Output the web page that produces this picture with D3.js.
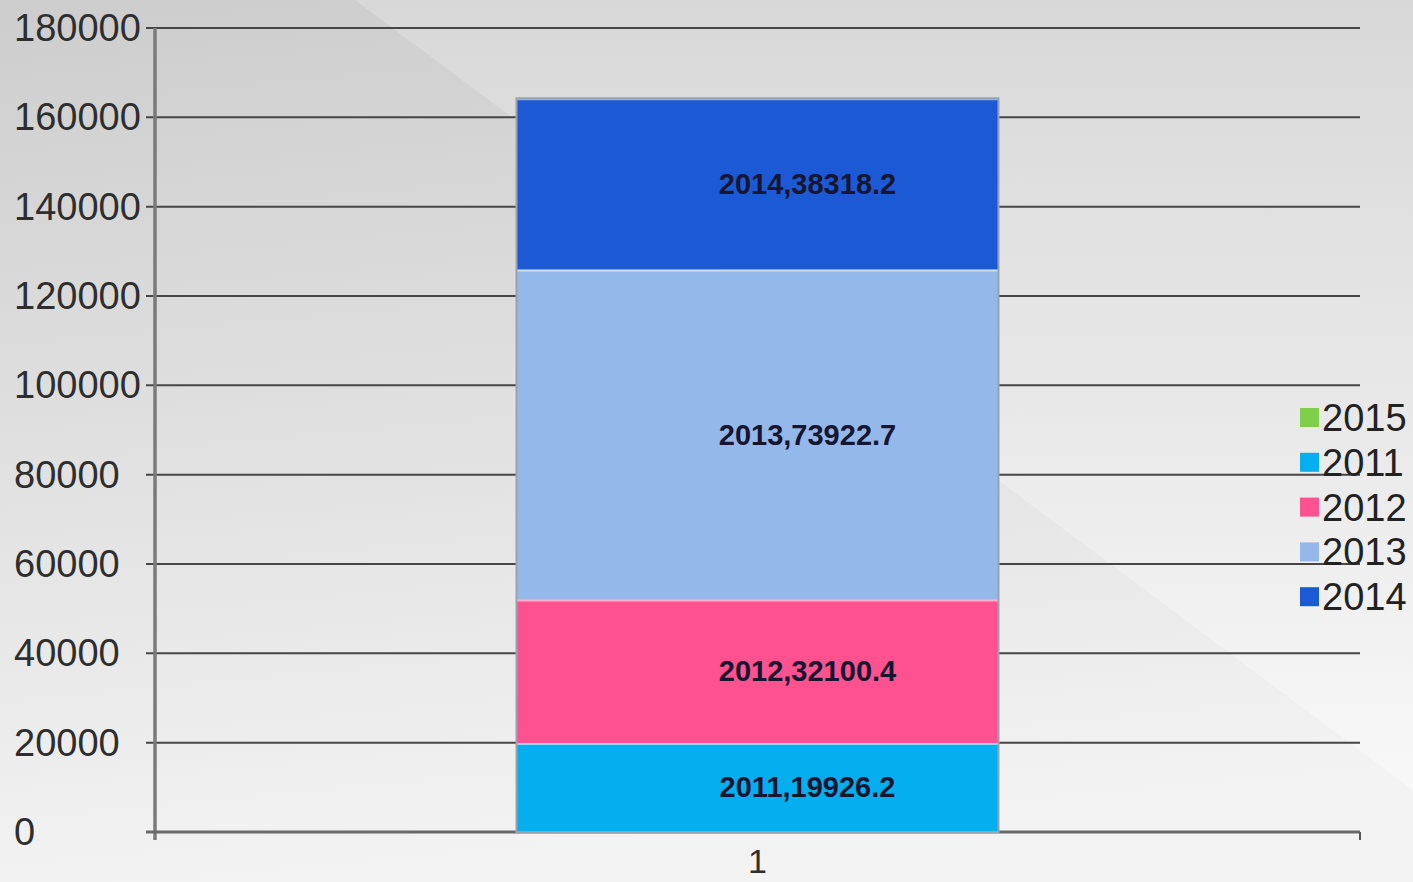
<!DOCTYPE html>
<html>
<head>
<meta charset="utf-8">
<script src="https://cdn.jsdelivr.net/npm/d3@7"></script>
<style>
html,body{margin:0;padding:0;background:#e6e6e6;}
svg{display:block;}
</style>
</head>
<body>
<svg id="chart" width="1413" height="882"></svg>
<script>
// ---- data ----
const categories = ["1"];
const seriesNames = ["2011", "2012", "2013", "2014", "2015"];
const seriesValues = [19926.2, 32100.4, 73922.7, 38318.2, 0];
const seriesColors = ["#05aeee", "#fd5190", "#94b8ea", "#1b5ad4", "#7fcf4a"];
const legendOrder = ["2015", "2011", "2012", "2013", "2014"];
const yTicks = [0, 20000, 40000, 60000, 80000, 100000, 120000, 140000, 160000, 180000];

const W = 1413, H = 882;
const svg = d3.select("#chart");
const defs = svg.append("defs");

// background
const bg = defs.append("linearGradient").attr("id", "bg").attr("x1", 0).attr("y1", 0).attr("x2", 0.15).attr("y2", 1);
bg.append("stop").attr("offset", "0%").attr("stop-color", "#cdcdcd");
bg.append("stop").attr("offset", "100%").attr("stop-color", "#f3f3f3");
const bg2 = defs.append("linearGradient").attr("id", "bg2").attr("gradientUnits", "userSpaceOnUse")
  .attr("x1", 0).attr("y1", 0).attr("x2", 0).attr("y2", 790);
bg2.append("stop").attr("offset", "0%").attr("stop-color", "#d8d8d8");
bg2.append("stop").attr("offset", "100%").attr("stop-color", "#f8f8f8");
svg.append("rect").attr("width", W).attr("height", H).attr("fill", "url(#bg)");
svg.append("path").attr("d", "M355,0 L1413,0 L1413,790 Z").attr("fill", "url(#bg2)");

// scales
const x = d3.scaleBand().domain(categories).range([155, 1360]).paddingInner(0.5).paddingOuter(0.375);
const y = d3.scaleLinear().domain([0, 180000]).range([832, 28]);

// gridlines
svg.append("g").selectAll("line").data(yTicks.filter(d => d > 0)).join("line")
  .attr("x1", 146).attr("x2", 1360)
  .attr("y1", d => y(d)).attr("y2", d => y(d))
  .attr("stroke", "#464646").attr("stroke-width", 2);

// y axis line
svg.append("line").attr("x1", 155).attr("x2", 155).attr("y1", y(180000)).attr("y2", 840)
  .attr("stroke", "#7a7a7a").attr("stroke-width", 3.5);
// x axis line
svg.append("line").attr("x1", 146).attr("x2", 1360).attr("y1", y(0)).attr("y2", y(0))
  .attr("stroke", "#6a6a6a").attr("stroke-width", 3);
svg.append("line").attr("x1", 1360).attr("x2", 1360).attr("y1", y(0)).attr("y2", 840)
  .attr("stroke", "#555").attr("stroke-width", 2);

// y tick labels
svg.append("g").selectAll("text").data(yTicks).join("text")
  .attr("x", 14).attr("y", d => y(d))
  .attr("dominant-baseline", "central")
  .attr("font-family", "Liberation Sans, Arial, sans-serif")
  .attr("font-size", 38).attr("fill", "#2e2e2e")
  .text(d => d);

// x label
svg.append("g").selectAll("text").data(categories).join("text")
  .attr("x", d => x(d) + x.bandwidth() / 2).attr("y", 873)
  .attr("text-anchor", "middle")
  .attr("font-family", "Liberation Sans, Arial, sans-serif")
  .attr("font-size", 34).attr("fill", "#2e2e2e")
  .text(d => d);

// stacked bar
const row = {cat: categories[0]};
seriesNames.forEach((s, i) => row[s] = seriesValues[i]);
const stacked = d3.stack().keys(seriesNames)([row]);
const color = d3.scaleOrdinal().domain(seriesNames).range(seriesColors);

const barG = svg.append("g");
stacked.forEach(layer => {
  const d = layer[0];
  if (d[1] - d[0] <= 0) return;
  barG.append("rect")
    .attr("x", x(d.data.cat)).attr("width", x.bandwidth())
    .attr("y", y(d[1])).attr("height", y(d[0]) - y(d[1]))
    .attr("fill", color(layer.key));
  barG.append("line")
    .attr("x1", x(d.data.cat)).attr("x2", x(d.data.cat) + x.bandwidth())
    .attr("y1", y(d[1]) + 1).attr("y2", y(d[1]) + 1)
    .attr("stroke", "#ffffff").attr("stroke-opacity", 0.55).attr("stroke-width", 2);
});
const total = d3.sum(seriesValues);
barG.append("rect")
  .attr("x", x(categories[0])).attr("width", x.bandwidth())
  .attr("y", y(total)).attr("height", y(0) - y(total))
  .attr("fill", "none").attr("stroke", "#9aa3ad").attr("stroke-width", 2);

// data labels
stacked.forEach(layer => {
  const d = layer[0];
  if (d[1] - d[0] <= 0) return;
  svg.append("text")
    .attr("x", x(d.data.cat) + x.bandwidth() / 2 + 50)
    .attr("y", (y(d[0]) + y(d[1])) / 2)
    .attr("text-anchor", "middle").attr("dominant-baseline", "central")
    .attr("font-family", "Liberation Sans, Arial, sans-serif")
    .attr("font-weight", "bold").attr("font-size", 29)
    .attr("fill", "#161630")
    .text(layer.key + "," + d.data[layer.key]);
});

// legend
const lg = svg.append("g");
legendOrder.forEach((s, i) => {
  const cy = 418 + i * 44.8;
  lg.append("rect").attr("x", 1300).attr("y", cy - 10).attr("width", 19).attr("height", 19)
    .attr("fill", color(s));
  lg.append("text").attr("x", 1322).attr("y", cy)
    .attr("dominant-baseline", "central")
    .attr("font-family", "Liberation Sans, Arial, sans-serif")
    .attr("font-size", 38).attr("fill", "#222")
    .text(s);
});
</script>
</body>
</html>
